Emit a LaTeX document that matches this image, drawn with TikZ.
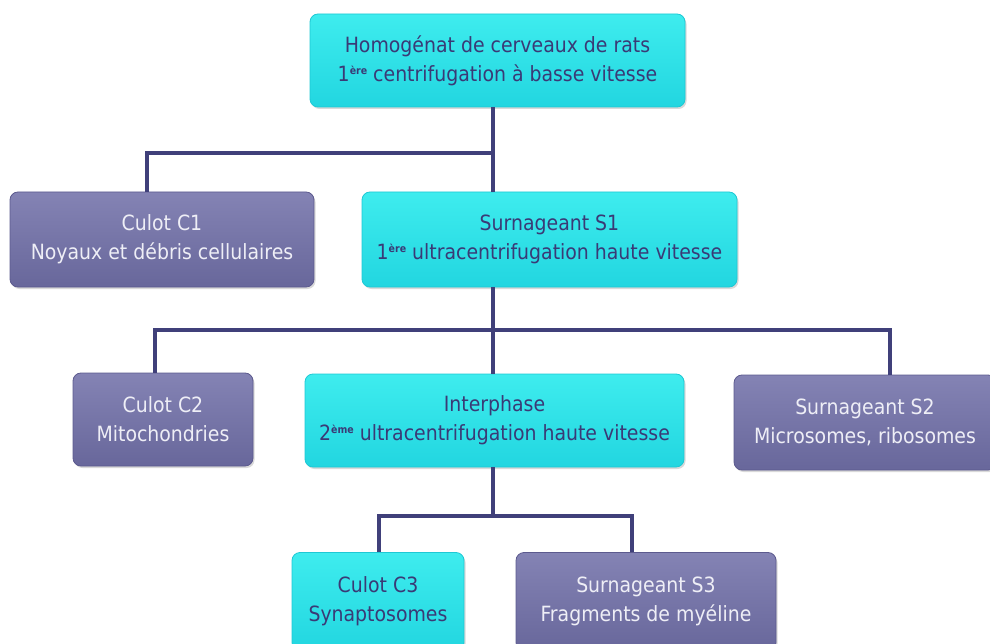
\documentclass[tikz,border=0pt]{standalone}
\usepackage{fontspec}
\setmainfont{DejaVu Sans Condensed}
\usetikzlibrary{shadows}
\definecolor{cyantop}{RGB}{62,236,238}
\definecolor{cyanbot}{RGB}{34,214,224}
\definecolor{cyanedge}{RGB}{30,200,212}
\definecolor{purptop}{RGB}{132,131,180}
\definecolor{purpbot}{RGB}{104,103,155}
\definecolor{purpedge}{RGB}{92,90,142}
\definecolor{navytext}{RGB}{58,58,118}
\definecolor{lighttext}{RGB}{238,238,246}
\definecolor{linecol}{RGB}{64,64,122}
\tikzset{
  basebox/.style={rectangle, rounded corners=8pt, align=center, inner sep=0pt,
    font=\fontsize{21}{29}\selectfont,
    drop shadow={shadow xshift=1.5pt, shadow yshift=-2pt, opacity=0.25, fill=black!60}},
  cyanbox/.style={basebox, top color=cyantop, bottom color=cyanbot, draw=cyanedge, line width=0.8pt, text=navytext},
  purpbox/.style={basebox, top color=purptop, bottom color=purpbot, draw=purpedge, line width=0.8pt, text=lighttext},
  conn/.style={draw=linecol, line width=4.5pt, line join=miter}
}
\newcommand{\ordsup}[1]{\raisebox{0.6ex}{\fontsize{10.5}{10.5}\selectfont\bfseries #1}}
\begin{document}
\begin{tikzpicture}[x=1pt, y=-1pt]
\useasboundingbox (0,0) rectangle (990,644);
\coordinate (j1) at (493,153);
\coordinate (h1l) at (147,153);
\coordinate (j2) at (493,330);
\coordinate (h2l) at (155,330);
\coordinate (h2r) at (890,330);
\coordinate (j3) at (493,516);
\coordinate (h3l) at (379,516);
\coordinate (h3r) at (632,516);

\node[cyanbox, minimum width=375pt, minimum height=93pt] (top) at (497.5,60.5)
  {Homogénat de cerveaux de rats\\1\ordsup{ère} centrifugation à basse vitesse};
\node[purpbox, minimum width=304pt, minimum height=95pt] (c1) at (162,239.5)
  {Culot C1\\Noyaux et débris cellulaires};
\node[cyanbox, minimum width=375pt, minimum height=95pt] (s1) at (549.5,239.5)
  {Surnageant S1\\1\ordsup{ère} ultracentrifugation haute vitesse};
\node[purpbox, minimum width=180pt, minimum height=93pt] (c2) at (163,419.5)
  {Culot C2\\Mitochondries};
\node[cyanbox, minimum width=379pt, minimum height=93pt] (inter) at (494.5,420.5)
  {Interphase\\2\ordsup{ème} ultracentrifugation haute vitesse};
\node[purpbox, minimum width=262pt, minimum height=95pt] (s2) at (865,422.5)
  {Surnageant S2\\Microsomes, ribosomes};
\node[cyanbox, minimum width=172pt, minimum height=98pt] (c3) at (378,601.5)
  {Culot C3\\Synaptosomes};
\node[purpbox, minimum width=260pt, minimum height=98pt] (s3) at (646,601.5)
  {Surnageant S3\\Fragments de myéline};

\draw[conn] (j1 |- top.south) -- (j1);
\draw[conn] (h1l |- c1.north) -- (h1l) -- (j1) -- (j1 |- s1.north);
\draw[conn] (j2 |- s1.south) -- (j2);
\draw[conn] (h2l |- c2.north) -- (h2l) -- (h2r) -- (h2r |- s2.north);
\draw[conn] (j2) -- (j2 |- inter.north);
\draw[conn] (j3 |- inter.south) -- (j3);
\draw[conn] (h3l |- c3.north) -- (h3l) -- (h3r) -- (h3r |- s3.north);
\end{tikzpicture}
\end{document}
